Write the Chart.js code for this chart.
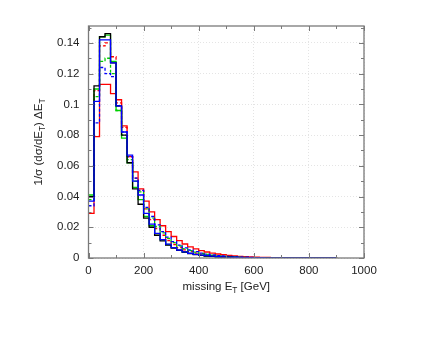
<!DOCTYPE html>
<html>
<head>
<meta charset="utf-8">
<script src="https://cdn.jsdelivr.net/npm/chart.js@4/dist/chart.umd.min.js"></script>
<style>
  html, body { margin: 0; padding: 0; background: #fff; }
  #wrap { width: 436px; height: 337px; }
</style>
</head>
<body>
<div id="wrap"><canvas id="chart" width="436" height="337"></canvas></div>
<script>
// bin left edges in GeV (20 GeV bins), last entry closes the histogram
const binEdges = [0, 20, 40, 60, 80, 100, 120, 140, 160, 180, 200, 220, 240, 260, 280, 300,
  320, 340, 360, 380, 400, 420, 440, 460, 480, 500, 520, 540, 560, 580, 600, 620, 640, 660,
  680, 700, 720, 740, 760, 780, 800, 820, 840, 860, 880, 900];

const xTicks = [0, 200, 400, 600, 800, 1000];
const yTicks = [0, 0.02, 0.04, 0.06, 0.08, 0.1, 0.12, 0.14];

// 1/sigma dsigma/dET * dET per bin
const blueSolid = [0.037, 0.102, 0.142, 0.142, 0.127, 0.099, 0.082, 0.067, 0.050, 0.041, 0.029, 0.022,
  0.016, 0.012, 0.0090, 0.0068, 0.0052, 0.0040, 0.0031, 0.0024, 0.0019, 0.0015, 0.0012, 0.0009, 0.0007,
  0.0006, 0.0005, 0.0004, 0.0003, 0.00025, 0.0002, 0.00016, 0.00013, 0.0001, 0.00008, 0.00006, 0.00005,
  0.00004, 0.00003, 0.00003, 0.00002, 0.00002, 0.00001, 0.00001, 0.00001];
const blackSolid = [0.040, 0.112, 0.144, 0.146, 0.127, 0.099, 0.080, 0.062, 0.045, 0.035, 0.026, 0.020,
  0.0148, 0.0112, 0.0084, 0.0064, 0.0049, 0.0038, 0.0029, 0.0022, 0.0017, 0.0013, 0.001, 0.0008, 0.0006,
  0.0005, 0.0004, 0.0003, 0.00025, 0.0002, 0.00015, 0.00012, 0.0001, 0.00008, 0.00006, 0.00005, 0.00004,
  0.00003, 0.00003, 0.00002, 0.00002, 0.00001, 0.00001, 0.00001, 0.00001];
const greenSolid = [0.041, 0.110, 0.144, 0.145, 0.128, 0.096, 0.078, 0.062, 0.046, 0.038, 0.027, 0.021,
  0.0158, 0.0118, 0.0088, 0.0067, 0.0051, 0.0039, 0.003, 0.0023, 0.0018, 0.0014, 0.0011, 0.0008, 0.0006,
  0.0005, 0.0004, 0.0003, 0.00025, 0.0002, 0.00015, 0.00012, 0.0001, 0.00008, 0.00006, 0.00005, 0.00004,
  0.00003, 0.00003, 0.00002, 0.00002, 0.00001, 0.00001, 0.00001, 0.00001];
const redSolid = [0.029, 0.079, 0.113, 0.113, 0.107, 0.103, 0.086, 0.066, 0.056, 0.045, 0.037, 0.030,
  0.025, 0.021, 0.0172, 0.0140, 0.0113, 0.0091, 0.0073, 0.0059, 0.0048, 0.0039, 0.0032, 0.0026, 0.0021,
  0.0017, 0.0014, 0.0011, 0.0009, 0.0007, 0.00058, 0.00047, 0.00038, 0.0003, 0.00024, 0.00019, 0.00015,
  0.00012, 0.0001, 0.00008, 0.00006, 0.00005, 0.00004, 0.00003, 0.00002];
const blueDashed = [0.034, 0.088, 0.124, 0.120, 0.118, 0.099, 0.082, 0.066, 0.052, 0.044, 0.033, 0.027,
  0.0215, 0.0172, 0.0136, 0.0107, 0.0084, 0.0066, 0.0052, 0.0041, 0.0032, 0.0025, 0.002, 0.0016, 0.0013,
  0.001, 0.0008, 0.0006, 0.0005, 0.0004, 0.0003, 0.00025, 0.0002, 0.00016, 0.00012, 0.0001, 0.00008,
  0.00006, 0.00005, 0.00004, 0.00003, 0.00002, 0.00002, 0.00001, 0.00001];
const greenDashed = [0.038, 0.105, 0.128, 0.130, 0.120, 0.096, 0.080, 0.064, 0.050, 0.043, 0.032, 0.026,
  0.0205, 0.0163, 0.0128, 0.0100, 0.0078, 0.0061, 0.0048, 0.0038, 0.003, 0.0023, 0.0018, 0.0014, 0.0011,
  0.0009, 0.0007, 0.0005, 0.0004, 0.0003, 0.00025, 0.0002, 0.00016, 0.00012, 0.0001, 0.00008, 0.00006,
  0.00005, 0.00004, 0.00003, 0.00002, 0.00002, 0.00001, 0.00001, 0.00001];
const redDashed = [0.040, 0.109, 0.138, 0.140, 0.131, 0.101, 0.085, 0.066, 0.052, 0.044, 0.032, 0.025,
  0.0192, 0.0148, 0.0114, 0.0088, 0.0068, 0.0053, 0.0041, 0.0032, 0.0025, 0.0019, 0.0015, 0.0012, 0.0009,
  0.0007, 0.0005, 0.0004, 0.0003, 0.00025, 0.0002, 0.00015, 0.00012, 0.0001, 0.00008, 0.00006, 0.00005,
  0.00004, 0.00003, 0.00002, 0.00002, 0.00001, 0.00001, 0.00001, 0.00001];

const FONT = "'Liberation Sans', Arial, sans-serif";
const FRAME = "#7a7a7a";

// histogram points: value held from each left edge to the next one
function steps(vals) {
  return binEdges.map((x, i) => ({ x: x, y: i < vals.length ? vals[i] : 0 }));
}

function series(vals, color, dashed) {
  return {
    data: steps(vals),
    borderColor: color,
    borderWidth: 1.3,
    borderDash: dashed ? [3, 2] : [],
    stepped: "before",
    pointRadius: 0,
    fill: false,
  };
}

// text with subscripts, centred on (0,0) of the current transform
function richText(ctx, parts, size) {
  const sub = size * 0.72;
  let w = 0;
  parts.forEach(p => {
    ctx.font = (p.sub ? sub : size) + "px " + FONT;
    w += ctx.measureText(p.t).width;
  });
  let x = -w / 2;
  ctx.textBaseline = "middle";
  ctx.textAlign = "left";
  parts.forEach(p => {
    ctx.font = (p.sub ? sub : size) + "px " + FONT;
    ctx.fillText(p.t, x, p.sub ? size * 0.3 : 0);
    x += ctx.measureText(p.t).width;
  });
}

const framePlugin = {
  id: "frame",
  afterDraw(chart) {
    const { ctx, chartArea: a, scales } = chart;
    const xs = scales.x, ys = scales.y;
    ctx.save();
    ctx.strokeStyle = FRAME;
    ctx.lineWidth = 1;
    // inward ticks on all four sides, major + minor
    for (let v = 0; v <= 1000; v += 100) {
      const px = Math.round(xs.getPixelForValue(v)) + 0.5;
      const len = v % 200 === 0 ? 5 : 3;
      ctx.beginPath();
      ctx.moveTo(px, a.bottom); ctx.lineTo(px, a.bottom - len);
      ctx.moveTo(px, a.top); ctx.lineTo(px, a.top + len);
      ctx.stroke();
    }
    for (let k = 0; k <= 15; k++) {
      const py = Math.round(ys.getPixelForValue(k * 0.01)) + 0.5;
      if (py < a.top) continue;
      const len = k % 2 === 0 ? 5 : 3;
      ctx.beginPath();
      ctx.moveTo(a.left, py); ctx.lineTo(a.left + len, py);
      ctx.moveTo(a.right, py); ctx.lineTo(a.right - len, py);
      ctx.stroke();
    }
    ctx.lineWidth = 1.3;
    ctx.strokeRect(a.left, a.top, a.right - a.left, a.bottom - a.top);

    ctx.fillStyle = "#222";
    ctx.save();
    ctx.translate((a.left + a.right) / 2, 287);
    richText(ctx, [{ t: "missing E" }, { t: "T", sub: true }, { t: " [GeV]" }], 11.5);
    ctx.restore();
    ctx.save();
    ctx.translate(39, (a.top + a.bottom) / 2);
    ctx.rotate(-Math.PI / 2);
    richText(ctx, [{ t: "1/σ (dσ/dE" }, { t: "T", sub: true }, { t: ") ΔE" }, { t: "T", sub: true }], 11.5);
    ctx.restore();
    ctx.restore();
  }
};

new Chart(document.getElementById("chart"), {
  type: "line",
  data: {
    datasets: [
      series(blueSolid, "#0000ff", false),
      series(blackSolid, "#000000", false),
      series(greenSolid, "#00d000", false),
      series(blueDashed, "#0000ff", true),
      series(greenDashed, "#00d000", true),
      series(redDashed, "#ff0000", true),
      series(redSolid, "#ff0000", false),
    ],
  },
  options: {
    responsive: false,
    animation: false,
    layout: { padding: { left: 0, right: 72, top: 26, bottom: 0 } },
    plugins: { legend: { display: false }, tooltip: { enabled: false } },
    scales: {
      x: {
        type: "linear",
        min: 0,
        max: 1000,
        afterBuildTicks: s => { s.ticks = xTicks.map(v => ({ value: v })); },
        afterFit: s => { s.height = 79; },
        grid: { color: "#e4e4e4", drawTicks: false },
        border: { display: false, dash: [1, 2] },
        ticks: {
          color: "#222",
          padding: 6,
          font: { family: FONT, size: 11.5 },
          maxRotation: 0,
          callback: v => String(v),
        },
      },
      y: {
        min: 0,
        max: 0.151,
        afterBuildTicks: s => { s.ticks = yTicks.map(v => ({ value: v })); },
        afterFit: s => { s.width = 88.5; },
        grid: { color: "#e4e4e4", drawTicks: false },
        border: { display: false, dash: [1, 2] },
        ticks: {
          color: "#222",
          padding: 9,
          font: { family: FONT, size: 11.5 },
          callback: v => String(+v.toFixed(3)),
        },
      },
    },
  },
  plugins: [framePlugin],
});
</script>
</body>
</html>
